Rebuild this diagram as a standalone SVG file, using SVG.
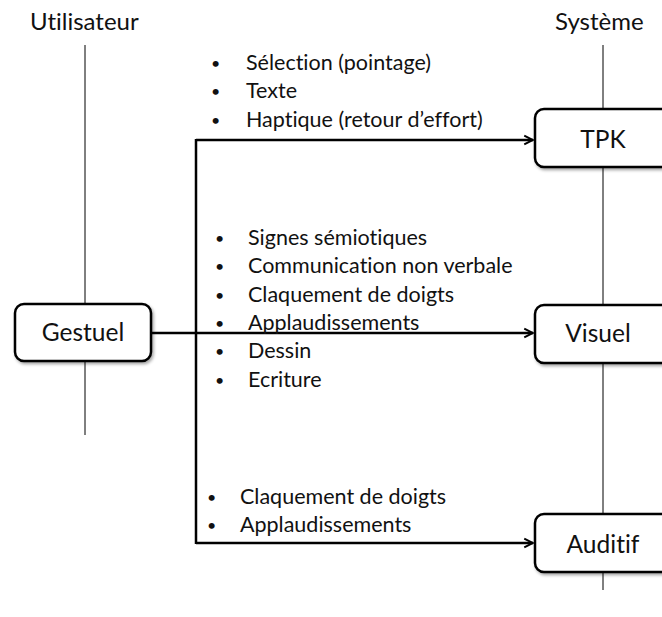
<svg xmlns="http://www.w3.org/2000/svg" width="662" height="617" viewBox="0 0 662 617">
<style>
text{font-family:Lato,"Liberation Sans",sans-serif;fill:#111;font-variant-ligatures:none}
.hdr{font-size:24px}
.lbl{font-size:21.5px}
.bul{font-size:16px}
.node{font-size:24.5px;text-anchor:middle}
.box{fill:#fff;stroke:#000;stroke-width:2.5}
.life{stroke:#000;stroke-width:1;fill:none}
.conn{stroke:#000;stroke-width:2.5;fill:none}
</style>
<defs>
<marker id="arr" viewBox="0 0 10 10" refX="9" refY="5" markerWidth="5" markerHeight="5" markerUnits="strokeWidth" orient="auto">
<polyline points="2,1.5 9,5 2,8.5" fill="none" stroke="#000" stroke-width="1.6"/>
</marker>
<filter id="sh" x="-10%" y="-10%" width="130%" height="140%">
<feDropShadow dx="1.5" dy="2" stdDeviation="1.5" flood-color="#000" flood-opacity="0.35"/>
</filter>
</defs>
<rect width="662" height="617" fill="#fff"/>
<g id="lifelines">
<text class="hdr" x="30" y="30">Utilisateur</text>
<text class="hdr" x="555" y="30">Système</text>
<line class="life" x1="85" y1="45" x2="85" y2="435"/>
<line class="life" x1="603" y1="45" x2="603" y2="590"/>
</g>
<g id="connectors">
<path class="conn" d="M151,333 H533" marker-end="url(#arr)"/>
<path class="conn" d="M196,139 V544"/>
<path class="conn" d="M196,140 H533" marker-end="url(#arr)"/>
<path class="conn" d="M196,543 H533" marker-end="url(#arr)"/>
</g>
<g id="gestuel">
<rect class="box" x="15" y="304" width="136" height="57" rx="9" filter="url(#sh)"/>
<text class="node" x="83" y="341">Gestuel</text>
</g>
<g id="tpk">
<rect class="box" x="535" y="109" width="136" height="58" rx="9" filter="url(#sh)"/>
<text class="node" x="603" y="148">TPK</text>
</g>
<g id="visuel">
<rect class="box" x="535" y="305" width="136" height="58" rx="9" filter="url(#sh)"/>
<text class="node" x="598" y="342">Visuel</text>
</g>
<g id="auditif">
<rect class="box" x="535" y="514" width="136" height="58" rx="9" filter="url(#sh)"/>
<text class="node" x="603" y="553">Auditif</text>
</g>
<g id="labels-tpk">
<text class="bul" x="211" y="69">•</text><text class="lbl" x="246" y="70">Sélection (pointage)</text>
<text class="bul" x="211" y="97">•</text><text class="lbl" x="246" y="98">Texte</text>
<text class="bul" x="211" y="126">•</text><text class="lbl" x="246" y="127">Haptique (retour d’effort)</text>
</g>
<g id="labels-visuel">
<text class="bul" x="215" y="244">•</text><text class="lbl" x="248" y="245">Signes sémiotiques</text>
<text class="bul" x="215" y="272">•</text><text class="lbl" x="248" y="273">Communication non verbale</text>
<text class="bul" x="215" y="301">•</text><text class="lbl" x="248" y="302">Claquement de doigts</text>
<text class="bul" x="215" y="329">•</text><text class="lbl" x="248" y="330">Applaudissements</text>
<text class="bul" x="215" y="357">•</text><text class="lbl" x="248" y="358">Dessin</text>
<text class="bul" x="215" y="386">•</text><text class="lbl" x="248" y="387">Ecriture</text>
</g>
<g id="labels-auditif">
<text class="bul" x="207" y="503">•</text><text class="lbl" x="240" y="504">Claquement de doigts</text>
<text class="bul" x="207" y="531">•</text><text class="lbl" x="240" y="532">Applaudissements</text>
</g>
</svg>
